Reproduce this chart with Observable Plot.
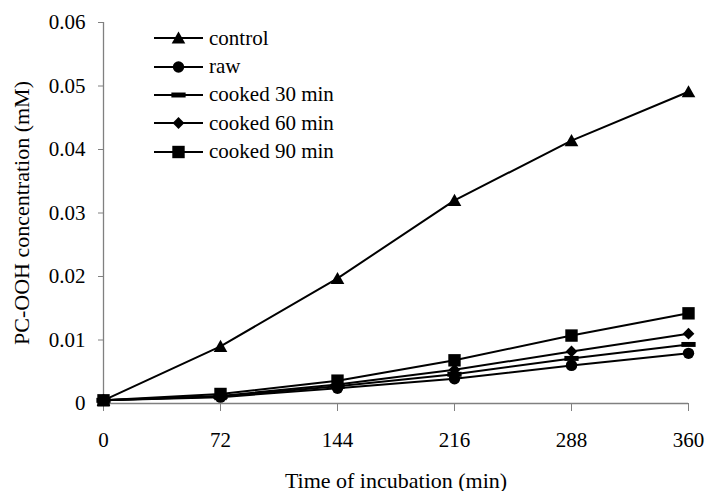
<!DOCTYPE html>
<html>
<head>
<meta charset="utf-8">
<script src="https://cdn.jsdelivr.net/npm/d3@7"></script>
<script src="https://cdn.jsdelivr.net/npm/@observablehq/plot@0.6"></script>
<style>
  html, body { margin: 0; padding: 0; background: #fff; }
  #wrap { position: relative; width: 707px; height: 491px; font-family: 'Liberation Serif', serif; }
  #legend { position: absolute; left: 150px; top: 24px; }
  .row { display: flex; align-items: center; height: 28.4px; }
  .row span { font-family: 'Liberation Serif', serif; font-size: 21px; color: #000; margin-left: 4px; line-height: 1; }
  svg text { font-family: 'Liberation Serif', serif !important; }
</style>
</head>
<body>
<div id="wrap"><div id="legend"></div></div>
<script>
// ---- data ----
const times = [0, 72, 144, 216, 288, 360];
const xTicks = [0, 72, 144, 216, 288, 360];
const yTicks = [0, 0.01, 0.02, 0.03, 0.04, 0.05, 0.06];
const seriesNames = ["control", "raw", "cooked 30 min", "cooked 60 min", "cooked 90 min"];
const control = [0.0005, 0.0090, 0.0197, 0.0320, 0.0414, 0.0491];
const raw     = [0.0005, 0.0010, 0.0024, 0.0039, 0.0060, 0.0079];
const cooked30 = [0.0005, 0.0011, 0.0027, 0.0046, 0.0071, 0.0093];
const cooked60 = [0.0005, 0.0012, 0.0030, 0.0053, 0.0082, 0.0110];
const cooked90 = [0.0005, 0.0015, 0.0036, 0.0068, 0.0107, 0.0142];
const xLabel = "Time of incubation (min)";
const yLabel = "PC-OOH concentration (mM)";

// ---- marker shapes ----
const rOf = s => Math.sqrt(s / Math.PI);
const symTriangle = { draw(c, s) { const r = rOf(s); c.moveTo(0, -r * 1.05); c.lineTo(r * 1.1, r * 0.9); c.lineTo(-r * 1.1, r * 0.9); c.closePath(); } };
const symCircle = { draw(c, s) { const r = rOf(s) * 0.92; c.moveTo(r, 0); c.arc(0, 0, r, 0, 2 * Math.PI); c.closePath(); } };
const symDash = { draw(c, s) { const r = rOf(s); c.rect(-r * 1.15, -r * 0.4, r * 2.3, r * 0.8); } };
const symDiamond = { draw(c, s) { const r = rOf(s) * 0.95; c.moveTo(0, -r); c.lineTo(r, 0); c.lineTo(0, r); c.lineTo(-r, 0); c.closePath(); } };
const symSquare = { draw(c, s) { const r = rOf(s); c.rect(-r, -r, 2 * r, 2 * r); } };
const symbols = [symTriangle, symCircle, symDash, symDiamond, symSquare];

const allSeries = [control, raw, cooked30, cooked60, cooked90];
const rows = [];
allSeries.forEach((vals, i) => vals.forEach((v, j) => rows.push({ series: seriesNames[i], idx: i, t: times[j], v })));

const font = "'Liberation Serif', serif";
const marks = [
  Plot.ruleY([0], { stroke: "#808080", strokeWidth: 1.3 }),
  Plot.ruleX([0], { stroke: "#808080", strokeWidth: 1.3 }),
  Plot.axisX({ ticks: xTicks, tickSize: 8, tickPadding: 21, fontSize: 21, stroke: "#808080", color: "#000",
    label: xLabel, labelAnchor: "center", labelArrow: "none", labelOffset: 84 }),
  Plot.axisY({ ticks: yTicks, tickSize: 5, tickPadding: 13, fontSize: 21, stroke: "#808080",
    tickFormat: d => d === 0 ? "0" : d.toFixed(2),
    label: yLabel, labelAnchor: "center", labelArrow: "none", labelOffset: 90 }),
];
seriesNames.forEach((name, i) => {
  const data = rows.filter(d => d.idx === i);
  marks.push(Plot.line(data, { x: "t", y: "v", stroke: "#000", strokeWidth: 2 }));
  marks.push(Plot.dot(data, { x: "t", y: "v", symbol: symbols[i], r: 6.2, fill: "#000", stroke: "none" }));
});

const chart = Plot.plot({
  width: 707, height: 491,
  marginLeft: 103, marginRight: 19, marginTop: 22, marginBottom: 88,
  x: { domain: [0, 360] },
  y: { domain: [0, 0.06] },
  style: { fontFamily: font, fontSize: "21px", color: "#000", background: "#fff" },
  marks
});
chart.querySelectorAll("text").forEach(t => { t.setAttribute("font-family", "Liberation Serif"); t.style.fontVariantNumeric = "normal"; });
chart.querySelectorAll("[aria-label='x-axis label'] text, [aria-label='y-axis label'] text").forEach(t => t.setAttribute("font-size", 22));
document.getElementById("wrap").prepend(chart);

// ---- legend ----
const legend = d3.select("#legend");
seriesNames.forEach((name, i) => {
  const row = legend.append("div").attr("class", "row");
  const svg = row.append("svg").attr("width", 55).attr("height", 28);
  svg.append("line").attr("x1", 4).attr("x2", 53).attr("y1", 14).attr("y2", 14).attr("stroke", "#000").attr("stroke-width", 2);
  svg.append("path").attr("transform", "translate(28.5,14)").attr("d", d3.symbol(symbols[i], 6.2 * 6.2 * Math.PI)()).attr("fill", "#000");
  row.append("span").text(name);
});
</script>
</body>
</html>
